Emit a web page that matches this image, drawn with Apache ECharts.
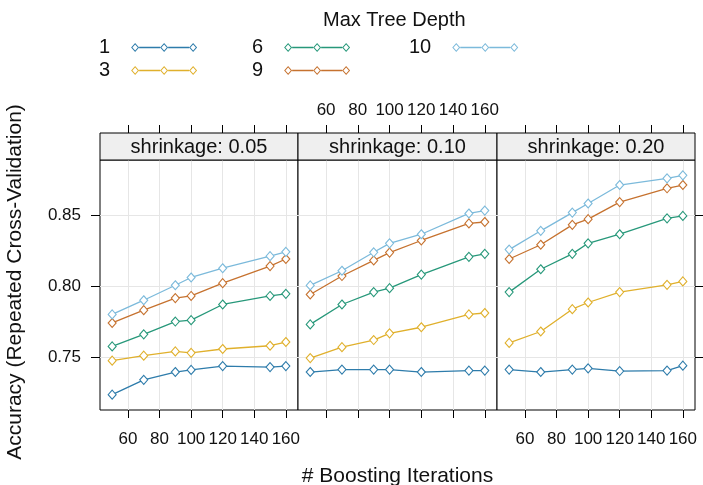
<!DOCTYPE html>
<html>
<head>
<meta charset="utf-8">
<script src="https://cdn.jsdelivr.net/npm/echarts@6/dist/echarts.min.js"></script>
<style>
  html, body { margin: 0; padding: 0; background: #fff; }
  #chart { width: 703px; height: 485px; }
</style>
</head>
<body>
<div id="chart"></div>
<script>
// boosting iterations (x) and tick values
const iterations = [50, 70, 90, 100, 120, 150, 160]
const xTicks = [60, 80, 100, 120, 140, 160]
const yTicks = [0.75, 0.80, 0.85]

const depths = ['1', '3', '6', '9', '10']
const depthColors = ['#2e7cab', '#e0b02c', '#27987a', '#c6722f', '#7cbadb']
const shrinkages = ['shrinkage: 0.05', 'shrinkage: 0.10', 'shrinkage: 0.20']

// accuracy, one row per tree depth (1, 3, 6, 9, 10)
const shrink005 = [
  [0.7236, 0.734, 0.7395, 0.741, 0.7437, 0.743, 0.7437],
  [0.7475, 0.751, 0.754, 0.753, 0.7557, 0.758, 0.7606],
  [0.7575, 0.766, 0.775, 0.776, 0.787, 0.793, 0.7945],
  [0.774, 0.783, 0.7915, 0.793, 0.802, 0.814, 0.819],
  [0.780, 0.790, 0.8005, 0.806, 0.8125, 0.821, 0.824]
]
const shrink010 = [
  [0.7395, 0.7412, 0.7412, 0.7412, 0.7395, 0.7405, 0.7405],
  [0.7493, 0.757, 0.762, 0.7667, 0.771, 0.780, 0.781],
  [0.773, 0.787, 0.7957, 0.7985, 0.808, 0.8205, 0.8226],
  [0.794, 0.807, 0.818, 0.8235, 0.832, 0.844, 0.845],
  [0.8004, 0.8107, 0.8237, 0.830, 0.8364, 0.851, 0.853]
]
const shrink020 = [
  [0.7412, 0.7395, 0.7412, 0.7421, 0.7402, 0.7405, 0.744],
  [0.760, 0.768, 0.7837, 0.7884, 0.7957, 0.8008, 0.8032],
  [0.7957, 0.8118, 0.8226, 0.830, 0.8364, 0.8476, 0.8493],
  [0.819, 0.829, 0.843, 0.847, 0.859, 0.8687, 0.871],
  [0.8256, 0.8388, 0.8516, 0.858, 0.871, 0.8757, 0.8778]
]
const panels = [shrink005, shrink010, shrink020]

// lattice pads the data range by 7% on each side
const pad = 0.07
const xLo = Math.min(...iterations)
const xHi = Math.max(...iterations)
const allY = panels.flat(2)
const yLo = Math.min(...allY)
const yHi = Math.max(...allY)
const xMin = xLo - pad * (xHi - xLo)
const xMax = xHi + pad * (xHi - xLo)
const yMin = yLo - pad * (yHi - yLo)
const yMax = yHi + pad * (yHi - yLo)

const panelLeft = [100, 298, 497]
const panelWidth = [198, 199, 198]
const panelTop = 160
const panelHeight = 250
const stripHeight = 27

const font = 'Liberation Sans, Arial, sans-serif'
const ink = '#111'
const gridColor = '#e6e6e6'

// line with three open diamonds, for the legend key
const keyIcon = 'path://' +
  'M0 4.5L4 0L8 4.5L4 9Z M1.3 4.5L4 7.6L6.7 4.5L4 1.4Z ' +
  'M29 4.5L33 0L37 4.5L33 9Z M30.3 4.5L33 7.6L35.7 4.5L33 1.4Z ' +
  'M58 4.5L62 0L66 4.5L62 9Z M59.3 4.5L62 7.6L64.7 4.5L62 1.4Z ' +
  'M8 3.85H29V5.15H8Z M37 3.85H58V5.15H37Z'

function legendBlock(names, left) {
  return {
    orient: 'vertical',
    left: left,
    top: 37,
    padding: 0,
    itemGap: 2,
    itemWidth: 66,
    itemHeight: 9,
    align: 'right',
    icon: keyIcon,
    selectedMode: false,
    textStyle: { fontSize: 20, color: ink, fontFamily: font, padding: [0, 16, 0, 0], lineHeight: 21 },
    data: names.map(n => ({
      name: n,
      itemStyle: { color: depthColors[depths.indexOf(n)], borderWidth: 0 }
    }))
  }
}

const grids = panelLeft.map((l, i) => ({
  left: l, top: panelTop, width: panelWidth[i], height: panelHeight,
  outerBoundsMode: 'none', containLabel: false,
  show: true, borderColor: '#000', borderWidth: 1, backgroundColor: '#fff'
}))

const bottomX = [0, 1, 2].map(i => ({
  type: 'value', gridIndex: i, min: xMin, max: xMax,
  axisLine: { show: false },
  axisTick: { show: true, inside: false, length: 8, customValues: xTicks, lineStyle: { color: '#000' } },
  axisLabel: { show: i !== 1, customValues: xTicks, margin: 21, fontSize: 17, color: ink, fontFamily: font },
  splitLine: { show: true, lineStyle: { color: gridColor, width: 1 } },
  name: i === 1 ? '# Boosting Iterations' : '',
  nameLocation: 'middle',
  nameGap: 56,
  nameTextStyle: { fontSize: 21, color: ink, fontFamily: font }
}))

const topX = [0, 1, 2].map(i => ({
  type: 'value', gridIndex: i, min: xMin, max: xMax, position: 'top', offset: stripHeight,
  axisLine: { show: false },
  axisTick: { show: true, inside: false, length: 8, customValues: xTicks, lineStyle: { color: '#000' } },
  axisLabel: { show: i === 1, customValues: xTicks, margin: 14, fontSize: 17, color: ink, fontFamily: font },
  splitLine: { show: false }
}))

const yAxes = [0, 1, 2].map(i => ({
  type: 'value', gridIndex: i, min: yMin, max: yMax, position: i === 2 ? 'right' : 'left',
  axisLine: { show: false },
  axisTick: { show: i !== 1, inside: false, length: 9, customValues: yTicks, lineStyle: { color: '#000' } },
  axisLabel: {
    show: i === 0, customValues: yTicks, margin: 19, fontSize: 17, color: ink, fontFamily: font,
    formatter: v => v.toFixed(2)
  },
  splitLine: { show: true, lineStyle: { color: gridColor, width: 1 } }
}))

const series = []
panels.forEach((rows, p) => {
  rows.forEach((vals, d) => {
    series.push({
      name: depths[d],
      type: 'line',
      xAxisIndex: p,
      yAxisIndex: p,
      data: iterations.map((x, k) => [x, vals[k]]),
      symbol: 'diamond',
      symbolSize: [8, 9],
      z: 2 + d,
      lineStyle: { color: depthColors[d], width: 1.3 },
      itemStyle: { color: '#fff', borderColor: depthColors[d], borderWidth: 1.1 },
      emphasis: { disabled: true },
      animation: false
    })
  })
})

const strips = []
panelLeft.forEach((l, i) => {
  strips.push({
    type: 'rect',
    shape: { x: l, y: panelTop - stripHeight, width: panelWidth[i], height: stripHeight },
    style: { fill: '#efefef', stroke: '#000', lineWidth: 1 },
    z: 10
  })
  strips.push({
    type: 'text',
    x: l + panelWidth[i] / 2,
    y: panelTop - stripHeight / 2 + 1,
    style: { text: shrinkages[i], fontSize: 20, fill: ink, fontFamily: font, align: 'center', verticalAlign: 'middle' },
    z: 11
  })
})

const chart = echarts.init(document.getElementById('chart'))
chart.setOption({
  animation: false,
  textStyle: { fontFamily: font },
  title: {
    text: 'Max Tree Depth', left: 323, top: 10, padding: 0,
    textStyle: { fontSize: 20, fontWeight: 'normal', color: ink, fontFamily: font }
  },
  legend: [
    legendBlock(['1', '3'], 99),
    legendBlock(['6', '9'], 252),
    legendBlock(['10'], 409)
  ],
  grid: grids,
  xAxis: bottomX.concat(topX),
  yAxis: yAxes,
  series: series,
  graphic: strips.concat([{
    type: 'text',
    x: 15,
    y: 282,
    rotation: Math.PI / 2,
    style: {
      text: 'Accuracy (Repeated Cross-Validation)', fontSize: 21, fill: ink, fontFamily: font,
      align: 'center', verticalAlign: 'middle'
    }
  }])
})
</script>
</body>
</html>
